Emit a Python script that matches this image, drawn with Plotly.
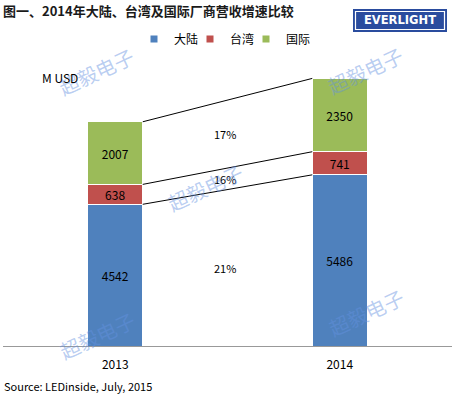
import plotly.graph_objects as go

years = ["2013", "2014"]
series_names = ["大陆", "台湾", "国际"]
mainland = [4542, 5486]
taiwan = [638, 741]
international = [2007, 2350]
colors = ["#4F81BD", "#C0504D", "#9BBB59"]

W, H = 456, 399
L, R, T, B = 3, 4, 60, 53
PW, PH = W - L - R, H - T - B

def px_x(px):
    return (px - L) / PW

def px_y(py):
    return (H - B - py) / PH

FONT = "Noto Sans CJK SC"
xs = [0, 1]
bw = 0.245
series = [mainland, taiwan, international]
legend_ids = ["legend", "legend2", "legend3"]
legend_marker_px = [152, 208, 264]

fig = go.Figure()
for name, vals, c, lg in zip(series_names, series, colors, legend_ids):
    fig.add_trace(go.Bar(
        x=xs, y=vals, name=name, width=bw,
        marker=dict(color=c, line=dict(color="white", width=1)),
        text=[str(v) for v in vals], textposition="inside",
        insidetextanchor="middle", textangle=0,
        textfont=dict(family=FONT, size=12, color="black"),
        showlegend=False, hoverinfo="skip",
    ))
    fig.add_trace(go.Scatter(
        x=[None], y=[None], mode="markers", name=name, legend=lg,
        marker=dict(symbol="square", size=7, color=c),
    ))

# cumulative tops for connecting lines
cum = []
run = [0, 0]
for vals in series:
    run = [run[i] + vals[i] for i in range(2)]
    cum.append(list(run))

for top in cum:
    fig.add_trace(go.Scatter(
        x=[xs[0] + bw / 2, xs[1] - bw / 2], y=[top[0], top[1]],
        mode="lines", line=dict(color="black", width=1),
        showlegend=False, hoverinfo="skip",
    ))

# growth labels centred between the connecting lines
prev = [0, 0]
for vals, top in zip(series, cum):
    g = round((vals[1] / vals[0] - 1) * 100)
    ymid = (prev[0] + top[0] + prev[1] + top[1]) / 4
    fig.add_annotation(x=0.49, y=ymid, xref="x", yref="y", text=f"{g}%",
                       showarrow=False, xanchor="center", yanchor="middle",
                       font=dict(family=FONT, size=11, color="black"))
    prev = top

# watermarks
for (wx, wy) in [(96, 71), (365, 70), (205, 187), (97, 335), (366, 312)]:
    fig.add_annotation(x=px_x(wx), y=px_y(wy), xref="paper", yref="paper",
                       text="超毅电子", showarrow=False, textangle=-25,
                       xanchor="center", yanchor="middle",
                       font=dict(family=FONT, size=20, color="rgba(100,145,225,0.45)"))

fig.add_annotation(x=px_x(40), y=px_y(77), xref="paper", yref="paper", text="M USD",
                   showarrow=False, xanchor="left", yanchor="middle",
                   font=dict(family=FONT, size=12, color="black"))
fig.add_annotation(x=px_x(2), y=px_y(386), xref="paper", yref="paper",
                   text="Source: LEDinside, July, 2015", showarrow=False,
                   xanchor="left", yanchor="middle",
                   font=dict(family=FONT, size=11, color="black"))

# logo
fig.add_shape(type="rect", xref="paper", yref="paper",
              x0=px_x(353), x1=px_x(447), y0=px_y(32), y1=px_y(9),
              fillcolor="#2A4C9E", line=dict(width=0))
fig.add_shape(type="rect", xref="paper", yref="paper",
              x0=px_x(355.5), x1=px_x(444.5), y0=px_y(29.5), y1=px_y(11.5),
              fillcolor="rgba(0,0,0,0)", line=dict(color="white", width=1.2))
fig.add_annotation(x=px_x(400), y=px_y(20.5), xref="paper", yref="paper",
                   text="<b>EVERLIGHT</b>", showarrow=False,
                   xanchor="center", yanchor="middle",
                   font=dict(family="DejaVu Sans", size=11.5, color="white"))

legend_common = dict(orientation="h", yanchor="middle", xanchor="left",
                     font=dict(family=FONT, size=12, color="black"),
                     itemwidth=30, bgcolor="rgba(0,0,0,0)")
legend_layout = {}
for lg, mx in zip(legend_ids, legend_marker_px):
    legend_layout[lg] = dict(legend_common, x=px_x(mx - 18), y=px_y(39))

fig.update_layout(
    width=W, height=H,
    margin=dict(l=L, r=R, t=T, b=B, autoexpand=False),
    paper_bgcolor="white", plot_bgcolor="white",
    barmode="stack",
    uniformtext=dict(mode="show", minsize=12),
    title=dict(text="<b>图一、2014年大陆、台湾及国际厂商营收增速比较</b>",
               x=3 / W, xanchor="left", xref="container",
               y=1 - 11 / H, yanchor="middle", yref="container",
               font=dict(family=FONT, size=13, color="#1a1a1a")),
    xaxis=dict(range=[-0.5, 1.5], tickvals=xs, ticktext=years, showgrid=False,
               zeroline=False, showline=True, linecolor="#999999", linewidth=1,
               ticks="outside", ticklen=8, tickcolor="rgba(0,0,0,0)",
               tickfont=dict(family=FONT, size=12, color="black"), fixedrange=True),
    yaxis=dict(range=[0, 9167], visible=False, fixedrange=True),
    showlegend=True,
    **legend_layout,
)

fig.write_html("out.html", config={"displayModeBar": False},
               post_script="document.body.style.margin='0px';")
